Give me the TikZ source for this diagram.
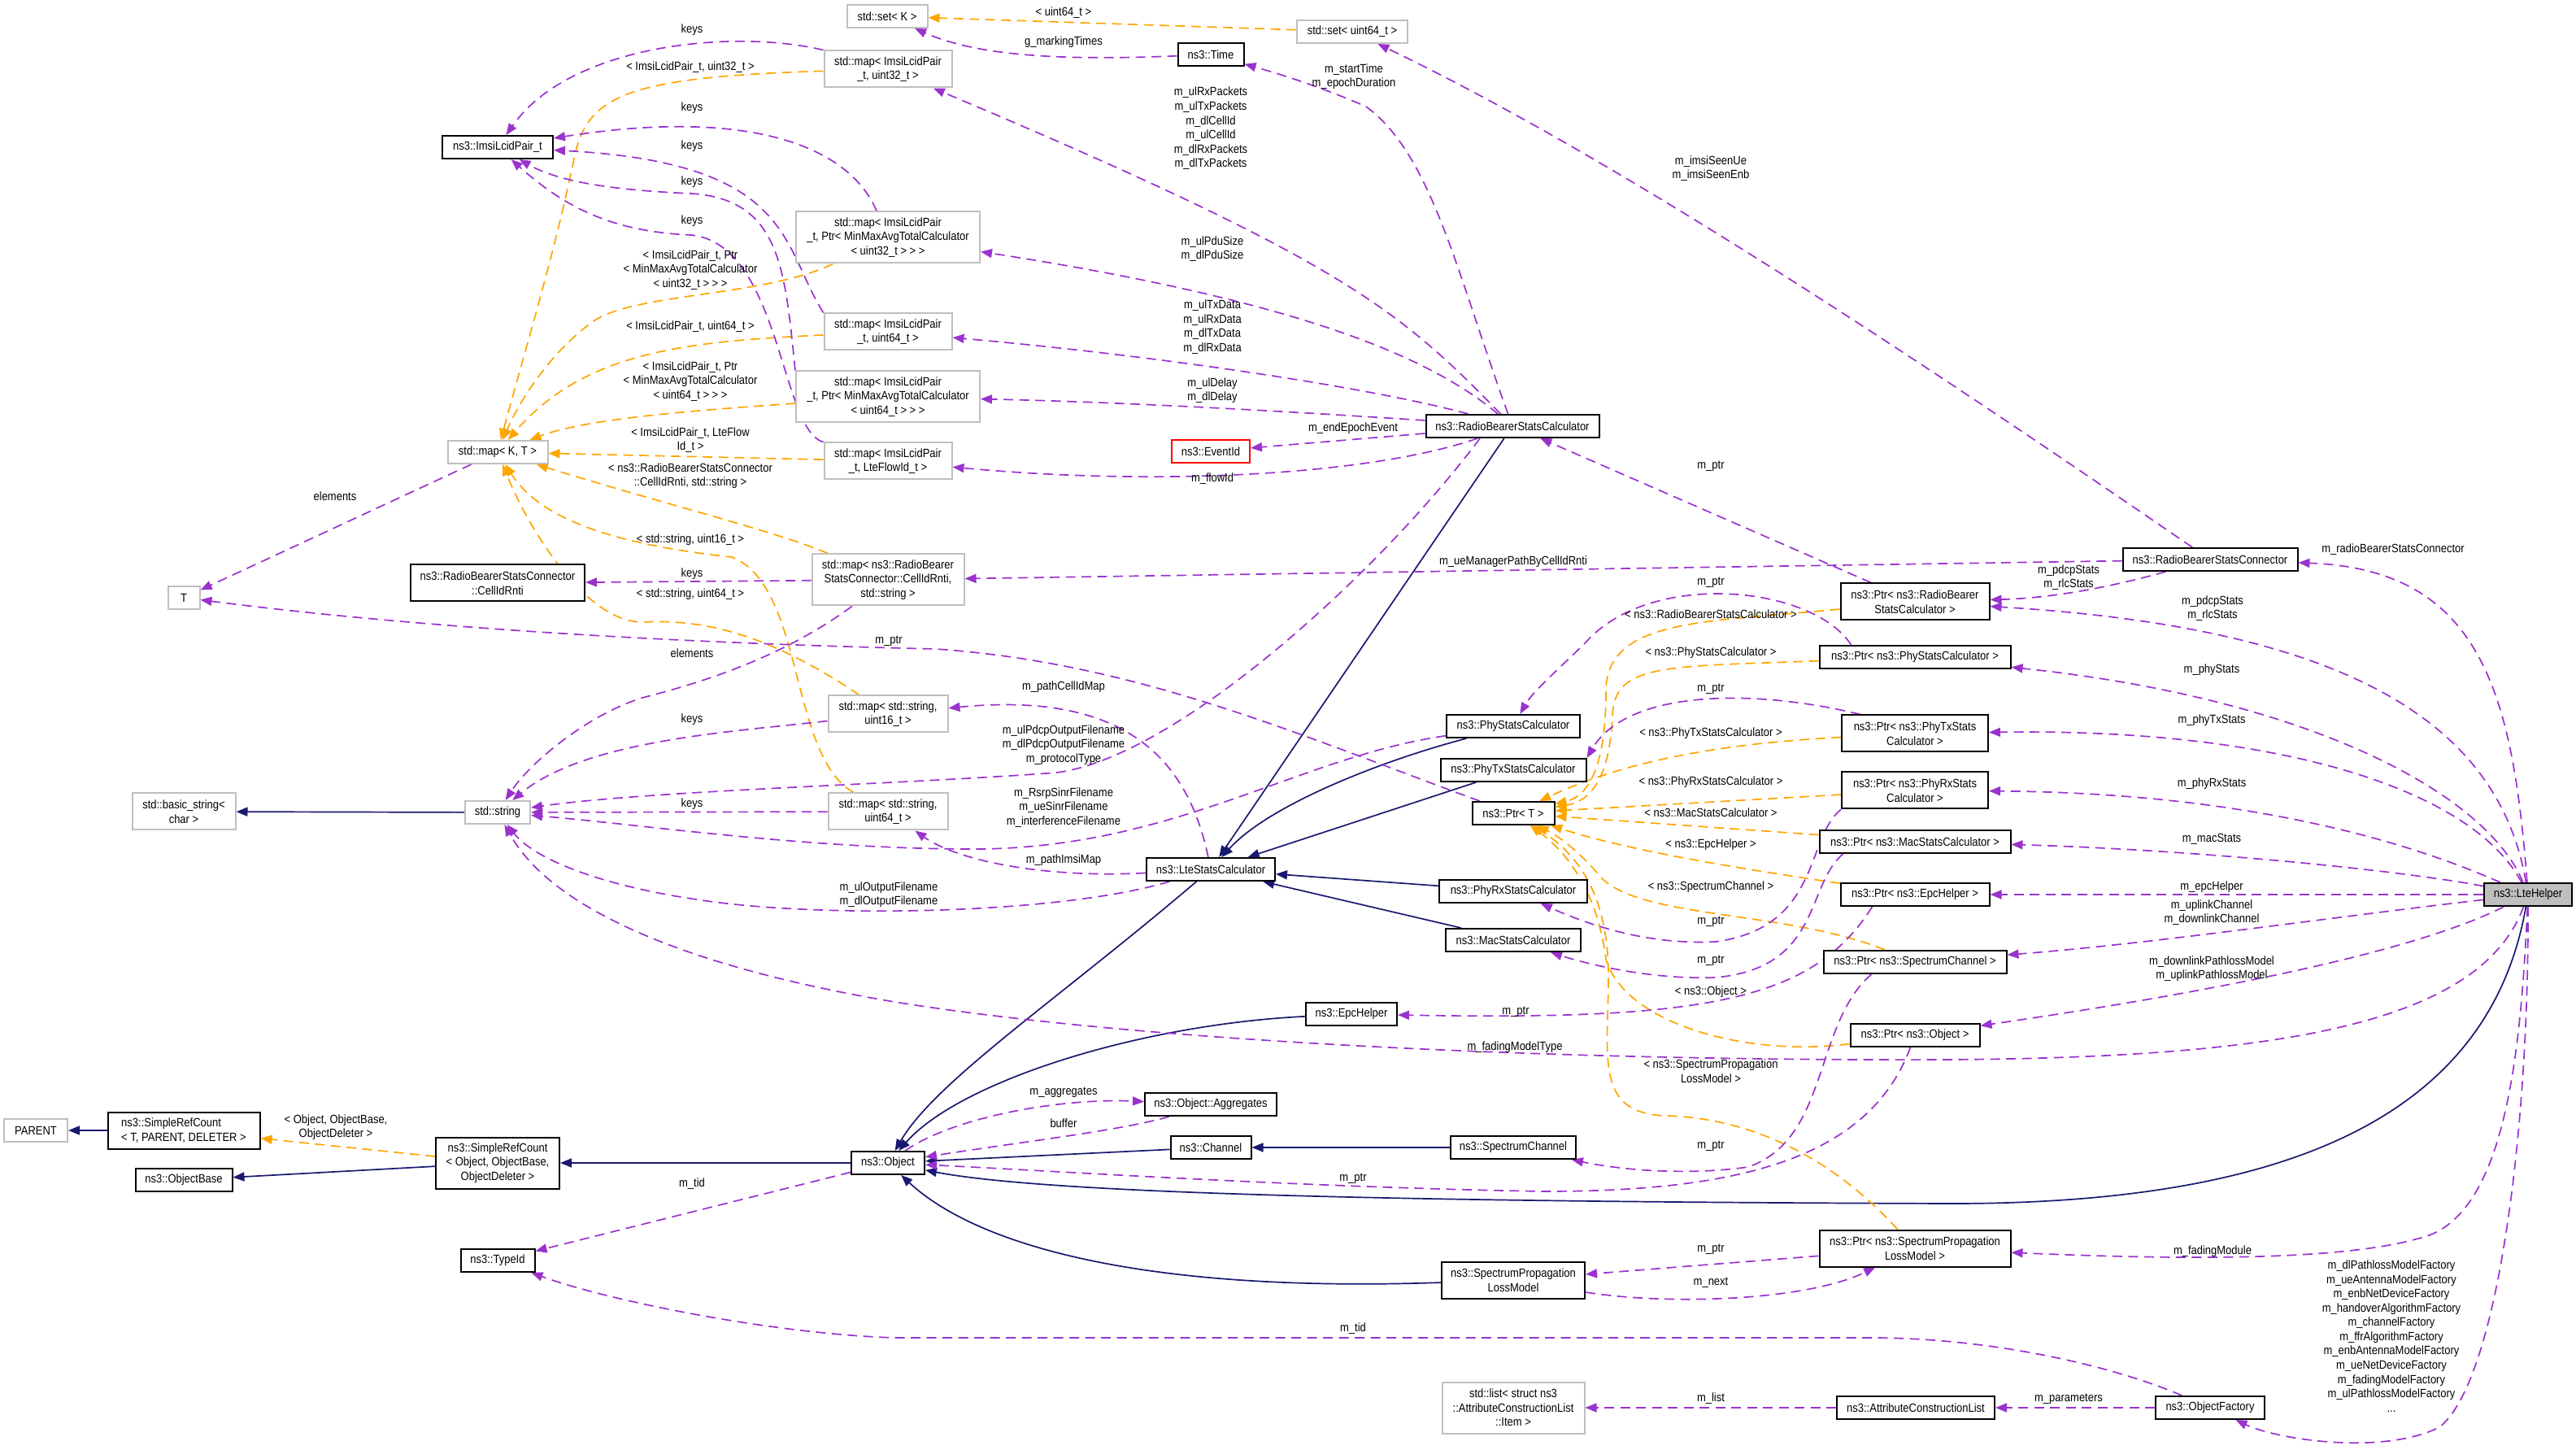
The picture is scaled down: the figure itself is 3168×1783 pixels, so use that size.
\documentclass[tikz,border=0pt]{standalone}
\usepackage{fontspec}
\setmainfont{Liberation Sans}[FakeStretch=0.88]
\usetikzlibrary{arrows.meta,backgrounds}
\definecolor{usecol}{HTML}{9A32CD}
\definecolor{tplcol}{HTML}{FFA500}
\definecolor{inhcol}{HTML}{191970}
\definecolor{extcol}{HTML}{BFBFBF}
\tikzset{
  clsbox/.style={draw=black,line width=.2mm,fill=white,align=center,
                 inner xsep=.4mm,inner ysep=.3mm,minimum height=2.8mm,
                 font=\fontsize{4.2}{5}\selectfont},
  extbox/.style={clsbox,draw=extcol},
  redbox/.style={clsbox,draw=red},
  hltbox/.style={clsbox,fill=extcol},
  h2/.style={minimum height=4.5mm},
  h3/.style={minimum height=6.3mm},
  lbl/.style={font=\fontsize{4.2}{5}\selectfont,align=center,inner sep=0pt},
  usg/.style={-{Triangle[length=1.4mm,width=1.1mm]},draw=usecol,
              line width=.17mm,dash pattern=on 1.2mm off .75mm},
  tpl/.style={usg,draw=tplcol},
  inh/.style={-{Triangle[length=1.4mm,width=1.1mm]},draw=inhcol,line width=.17mm},
}
\begin{document}
\begin{tikzpicture}[x=.1mm,y=-.1mm]
  \useasboundingbox (0,0) rectangle (3168,1783);
  % classes
  \node[clsbox,minimum width=13.6mm] (ilp) at (612,181) {ns3::ImsiLcidPair\_t};
  \node[extbox,minimum width=12.3mm] (mapKT) at (612,556) {std::map< K, T >};
  \node[extbox,minimum width=9.9mm] (setK) at (1091,20) {std::set< K >};
  \node[extbox,minimum width=13.6mm] (setU) at (1663,39) {std::set< uint64\_t >};
  \node[extbox,h2,minimum width=15.7mm] (m32) at (1092,85) {std::map< ImsiLcidPair\\\_t, uint32\_t >};
  \node[clsbox,minimum width=8.1mm] (time) at (1489,67) {ns3::Time};
  \node[extbox,h3,minimum width=22.6mm] (mp32) at (1092,292) {std::map< ImsiLcidPair\\\_t, Ptr< MinMaxAvgTotalCalculator\\< uint32\_t > > >};
  \node[extbox,h2,minimum width=15.7mm] (m64) at (1092,408) {std::map< ImsiLcidPair\\\_t, uint64\_t >};
  \node[extbox,h3,minimum width=22.6mm] (mp64) at (1092,488) {std::map< ImsiLcidPair\\\_t, Ptr< MinMaxAvgTotalCalculator\\< uint64\_t > > >};
  \node[redbox,minimum width=9.6mm] (evid) at (1489,555) {ns3::EventId};
  \node[extbox,h2,minimum width=15.7mm] (mflow) at (1092,567) {std::map< ImsiLcidPair\\\_t, LteFlowId\_t >};
  \node[clsbox,minimum width=21.3mm] (rbsc) at (1860,524) {ns3::RadioBearerStatsCalculator};
  \node[extbox,minimum width=3.9mm] (tT) at (226,735) {T};
  \node[clsbox,h2,minimum width=21.4mm] (cir) at (612,717) {ns3::RadioBearerStatsConnector\\::CellIdRnti};
  \node[extbox,h2,minimum width=12.7mm] (bstr) at (226,998) {std::basic\_string<\\char >};
  \node[extbox,minimum width=8mm] (str) at (612,999) {std::string};
  \node[extbox,h3,minimum width=18.7mm] (mcir) at (1092,713) {std::map< ns3::RadioBearer\\StatsConnector::CellIdRnti,\\std::string >};
  \node[extbox,h2,minimum width=14.7mm] (ms16) at (1092,878) {std::map< std::string,\\uint16\_t >};
  \node[extbox,h2,minimum width=14.7mm] (ms64) at (1092,998) {std::map< std::string,\\uint64\_t >};
  \node[clsbox,minimum width=15.8mm] (lsc) at (1489,1069) {ns3::LteStatsCalculator};
  \node[clsbox,minimum width=16.4mm] (phy) at (1861,893) {ns3::PhyStatsCalculator};
  \node[clsbox,minimum width=17.9mm] (phytx) at (1861,947) {ns3::PhyTxStatsCalculator};
  \node[clsbox,minimum width=10.1mm] (ptrT) at (1861,1000) {ns3::Ptr< T >};
  \node[clsbox,minimum width=18.2mm] (phyrx) at (1861,1096) {ns3::PhyRxStatsCalculator};
  \node[clsbox,minimum width=16.6mm] (mac) at (1861,1156) {ns3::MacStatsCalculator};
  \node[clsbox,h2,minimum width=18.3mm] (prbsc) at (2355,740) {ns3::Ptr< ns3::RadioBearer\\StatsCalculator >};
  \node[clsbox,minimum width=23.5mm] (pphy) at (2355,808) {ns3::Ptr< ns3::PhyStatsCalculator >};
  \node[clsbox,h2,minimum width=18mm] (pphytx) at (2355,902) {ns3::Ptr< ns3::PhyTxStats\\Calculator >};
  \node[clsbox,h2,minimum width=18mm] (pphyrx) at (2355,972) {ns3::Ptr< ns3::PhyRxStats\\Calculator >};
  \node[clsbox,minimum width=23.5mm] (pmac) at (2355,1035) {ns3::Ptr< ns3::MacStatsCalculator >};
  \node[clsbox,minimum width=18.3mm] (pepc) at (2355,1100) {ns3::Ptr< ns3::EpcHelper >};
  \node[clsbox,minimum width=22.5mm] (pchan) at (2355,1183) {ns3::Ptr< ns3::SpectrumChannel >};
  \node[clsbox,minimum width=21.5mm] (conn) at (2718,688) {ns3::RadioBearerStatsConnector};
  \node[hltbox,minimum width=10.8mm] (lte) at (3109,1100) {ns3::LteHelper};
  \node[extbox,minimum width=7.8mm] (parent) at (44,1390) {PARENT};
  \node[clsbox,h2,minimum width=18.7mm,align=left] (src) at (226,1390) {ns3::SimpleRefCount\\< T, PARENT, DELETER >};
  \node[clsbox,minimum width=11.9mm] (objbase) at (226,1451) {ns3::ObjectBase};
  \node[clsbox,h3,minimum width=15.2mm] (srco) at (612,1430) {ns3::SimpleRefCount\\< Object, ObjectBase,\\ObjectDeleter >};
  \node[clsbox,minimum width=9.1mm] (tid) at (612,1550) {ns3::TypeId};
  \node[clsbox,minimum width=9mm] (obj) at (1092,1430) {ns3::Object};
  \node[clsbox,minimum width=16.2mm] (aggr) at (1489,1358) {ns3::Object::Aggregates};
  \node[clsbox,minimum width=9.9mm] (chan) at (1489,1411) {ns3::Channel};
  \node[clsbox,minimum width=11.2mm] (epc) at (1662,1247) {ns3::EpcHelper};
  \node[clsbox,minimum width=15.9mm] (pobj) at (2355,1273) {ns3::Ptr< ns3::Object >};
  \node[clsbox,minimum width=15.4mm] (schan) at (1861,1411) {ns3::SpectrumChannel};
  \node[clsbox,h2,minimum width=17.6mm] (splm) at (1861,1574) {ns3::SpectrumPropagation\\LossModel};
  \node[clsbox,h2,minimum width=23.5mm] (psplm) at (2355,1535) {ns3::Ptr< ns3::SpectrumPropagation\\LossModel >};
  \node[extbox,h3,minimum width=17.5mm] (slist) at (1861,1731) {std::list< struct ns3\\::AttributeConstructionList\\::Item >};
  \node[clsbox,minimum width=19.4mm] (acl) at (2356,1731) {ns3::AttributeConstructionList};
  \node[clsbox,minimum width=13.4mm] (ofac) at (2718,1731) {ns3::ObjectFactory};

  % edge labels
  \node[lbl] (lk1) at (851,37) {keys};
  \node[lbl] (lk2) at (851,133) {keys};
  \node[lbl] (lk3) at (851,180) {keys};
  \node[lbl] (lk4) at (851,224) {keys};
  \node[lbl] (lk5) at (851,272) {keys};
  \node[lbl] (lt1) at (849,83) {< ImsiLcidPair\_t, uint32\_t >};
  \node[lbl] (lt2) at (849,332) {< ImsiLcidPair\_t, Ptr\\< MinMaxAvgTotalCalculator\\< uint32\_t > > >};
  \node[lbl] (lt3) at (849,402) {< ImsiLcidPair\_t, uint64\_t >};
  \node[lbl] (lt4) at (849,469) {< ImsiLcidPair\_t, Ptr\\< MinMaxAvgTotalCalculator\\< uint64\_t > > >};
  \node[lbl] (lt5) at (849,541) {< ImsiLcidPair\_t, LteFlow\\Id\_t >};
  \node[lbl] (lt6) at (849,585) {< ns3::RadioBearerStatsConnector\\::CellIdRnti, std::string >};
  \node[lbl] (lel1) at (412,610) {elements};
  \node[lbl] (lt7) at (849,664) {< std::string, uint16\_t >};
  \node[lbl] (lk6) at (851,706) {keys};
  \node[lbl] (lt8) at (849,731) {< std::string, uint64\_t >};
  \node[lbl] (lp1) at (1093,788) {m\_ptr};
  \node[lbl] (lel2) at (851,803) {elements};
  \node[lbl] (lk7) at (851,885) {keys};
  \node[lbl] (lk8) at (851,989) {keys};
  \node[lbl] (lt9) at (1308,16) {< uint64\_t >};
  \node[lbl] (lmark) at (1308,52) {g\_markingTimes};
  \node[lbl] (lpkt) at (1489,158) {m\_ulRxPackets\\m\_ulTxPackets\\m\_dlCellId\\m\_ulCellId\\m\_dlRxPackets\\m\_dlTxPackets};
  \node[lbl] (lstart) at (1665,94) {m\_startTime\\m\_epochDuration};
  \node[lbl] (lpdu) at (1491,306) {m\_ulPduSize\\m\_dlPduSize};
  \node[lbl] (ldata) at (1491,402) {m\_ulTxData\\m\_ulRxData\\m\_dlTxData\\m\_dlRxData};
  \node[lbl] (ldelay) at (1491,480) {m\_ulDelay\\m\_dlDelay};
  \node[lbl] (lepoch) at (1664,527) {m\_endEpochEvent};
  \node[lbl] (lflow) at (1491,589) {m\_flowId};
  \node[lbl] (lseen) at (2104,207) {m\_imsiSeenUe\\m\_imsiSeenEnb};
  \node[lbl] (lp2) at (2104,573) {m\_ptr};
  \node[lbl] (lue) at (1861,691) {m\_ueManagerPathByCellIdRnti};
  \node[lbl] (lp3) at (2104,716) {m\_ptr};
  \node[lbl] (lt10) at (2104,755) {< ns3::RadioBearerStatsCalculator >};
  \node[lbl] (lt11) at (2104,803) {< ns3::PhyStatsCalculator >};
  \node[lbl] (lp4) at (2104,847) {m\_ptr};
  \node[lbl] (lt12) at (2104,902) {< ns3::PhyTxStatsCalculator >};
  \node[lbl] (lt13) at (2104,962) {< ns3::PhyRxStatsCalculator >};
  \node[lbl] (lt14) at (2104,999) {< ns3::MacStatsCalculator >};
  \node[lbl] (lt15) at (2104,1039) {< ns3::EpcHelper >};
  \node[lbl] (lt16) at (2104,1091) {< ns3::SpectrumChannel >};
  \node[lbl] (lp5) at (2104,1133) {m\_ptr};
  \node[lbl] (lp6) at (2104,1181) {m\_ptr};
  \node[lbl] (lt17) at (2104,1220) {< ns3::Object >};
  \node[lbl] (lp7) at (1864,1244) {m\_ptr};
  \node[lbl] (lfmt) at (1863,1288) {m\_fadingModelType};
  \node[lbl] (lt18) at (2104,1317) {< ns3::SpectrumPropagation\\LossModel >};
  \node[lbl] (lp8) at (2104,1409) {m\_ptr};
  \node[lbl] (lp9) at (1664,1449) {m\_ptr};
  \node[lbl] (laggr) at (1308,1343) {m\_aggregates};
  \node[lbl] (lbuf) at (1308,1381) {buffer};
  \node[lbl] (ltid1) at (851,1456) {m\_tid};
  \node[lbl] (lp10) at (2104,1536) {m\_ptr};
  \node[lbl] (lnext) at (2104,1577) {m\_next};
  \node[lbl] (ltid2) at (1664,1634) {m\_tid};
  \node[lbl] (llist) at (2104,1720) {m\_list};
  \node[lbl] (lparam) at (2544,1720) {m\_parameters};
  \node[lbl] (lcell) at (1308,845) {m\_pathCellIdMap};
  \node[lbl] (lpdcp) at (1308,916) {m\_ulPdcpOutputFilename\\m\_dlPdcpOutputFilename\\m\_protocolType};
  \node[lbl] (lrsrp) at (1308,993) {m\_RsrpSinrFilename\\m\_ueSinrFilename\\m\_interferenceFilename};
  \node[lbl] (limsi) at (1308,1058) {m\_pathImsiMap};
  \node[lbl] (lout) at (1093,1100) {m\_ulOutputFilename\\m\_dlOutputFilename};
  \node[lbl] (lt19) at (413,1386) {< Object, ObjectBase,\\ObjectDeleter >};
  \node[lbl] (lconn) at (2943,676) {m\_radioBearerStatsConnector};
  \node[lbl] (lpdcp1) at (2544,710) {m\_pdcpStats\\m\_rlcStats};
  \node[lbl] (lpdcp2) at (2721,748) {m\_pdcpStats\\m\_rlcStats};
  \node[lbl] (lphy) at (2720,824) {m\_phyStats};
  \node[lbl] (lphytx) at (2720,886) {m\_phyTxStats};
  \node[lbl] (lphyrx) at (2720,964) {m\_phyRxStats};
  \node[lbl] (lmac) at (2720,1032) {m\_macStats};
  \node[lbl] (lepc) at (2720,1091) {m\_epcHelper};
  \node[lbl] (lchan) at (2720,1122) {m\_uplinkChannel\\m\_downlinkChannel};
  \node[lbl] (lpath) at (2720,1191) {m\_downlinkPathlossModel\\m\_uplinkPathlossModel};
  \node[lbl] (lfad) at (2721,1539) {m\_fadingModule};
  \node[lbl] (lfac) at (2941,1643) {m\_dlPathlossModelFactory\\m\_ueAntennaModelFactory\\m\_enbNetDeviceFactory\\m\_handoverAlgorithmFactory\\m\_channelFactory\\m\_ffrAlgorithmFactory\\m\_enbAntennaModelFactory\\m\_ueNetDeviceFactory\\m\_fadingModelFactory\\m\_ulPathlossModelFactory\\...};

  \begin{scope}[on background layer]
    % inheritance
    \draw[inh] (str) -- (bstr);
    \draw[inh] (src) -- (parent);
    \draw[inh] (srco) -- (objbase);
    \draw[inh] (obj) -- (srco);
    \draw[inh] (lsc) .. controls (1300,1230) and (1150,1330) .. (obj);
    \draw[inh] (epc) .. controls (1400,1260) and (1180,1330) .. (obj);
    \draw[inh] (chan) -- (obj);
    \draw[inh] (schan) -- (chan);
    \draw[inh] (splm) .. controls (1400,1590) and (1200,1530) .. (obj);
    \draw[inh] (lte) .. controls (3060,1380) and (2800,1480) .. (2400,1480)
                     .. controls (1800,1478) and (1300,1470) .. (obj);
    \draw[inh] (rbsc) -- (lsc);
    \draw[inh] (phy) .. controls (1700,935) and (1560,990) .. (lsc);
    \draw[inh] (phytx) -- (lsc);
    \draw[inh] (phyrx) -- (lsc);
    \draw[inh] (mac) -- (lsc);

    % template instances
    \draw[tpl] (setU) -- (setK);
    \draw[tpl] (m32) .. controls (760,95) and (720,120) .. (705,200)
                     .. controls (680,320) and (640,450) .. (mapKT);
    \draw[tpl] (mp32) .. controls (940,365) and (780,360) .. (730,395)
                      .. controls (680,430) and (640,490) .. (mapKT);
    \draw[tpl] (m64) .. controls (850,420) and (720,430) .. (mapKT);
    \draw[tpl] (mp64) .. controls (850,505) and (720,515) .. (mapKT);
    \draw[tpl] (mflow) -- (mapKT);
    \draw[tpl] (mcir) .. controls (960,655) and (800,615) .. (mapKT);
    \draw[tpl] (ms16) .. controls (960,790) and (880,760) .. (790,765)
                      .. controls (720,765) and (650,650) .. (mapKT);
    \draw[tpl] (ms64) .. controls (970,930) and (990,720) .. (900,685)
                      .. controls (760,670) and (665,640) .. (mapKT);
    \draw[tpl] (prbsc) .. controls (2100,765) and (1975,760) .. (1975,850)
                       .. controls (1975,950) and (1950,980) .. (ptrT);
    \draw[tpl] (pphy) .. controls (2050,820) and (1985,815) .. (1983,880)
                      .. controls (1980,950) and (1960,985) .. (ptrT);
    \draw[tpl] (pphytx) .. controls (2100,915) and (1990,940) .. (ptrT);
    \draw[tpl] (pphyrx) -- (ptrT);
    \draw[tpl] (pmac) -- (ptrT);
    \draw[tpl] (pepc) .. controls (2120,1065) and (2000,1045) .. (ptrT);
    \draw[tpl] (pchan) .. controls (2200,1120) and (2020,1130) .. (1970,1080)
                       .. controls (1945,1050) and (1920,1030) .. (ptrT);
    \draw[tpl] (pobj) .. controls (2150,1300) and (2000,1260) .. (1975,1180)
                      .. controls (1965,1100) and (1930,1050) .. (ptrT);
    \draw[tpl] (psplm) .. controls (2250,1420) and (2150,1375) .. (2050,1372)
                       .. controls (1960,1370) and (1978,1300) .. (1978,1200)
                       .. controls (1978,1100) and (1940,1050) .. (ptrT);
    \draw[tpl] (srco) -- (src);

    % usage
    \draw[usg] (m32.north west) .. controls (900,35) and (700,55) .. (ilp);
    \draw[usg] (mp32) .. controls (1040,170) and (900,135) .. (ilp);
    \draw[usg] (m64.north west) .. controls (960,300) and (975,200) .. (ilp);
    \draw[usg] (mp64.north west) .. controls (965,330) and (960,245) .. (850,238)
                                 .. controls (760,234) and (690,225) .. (ilp);
    \draw[usg] (mflow.north west) .. controls (960,530) and (960,300) .. (850,289)
                                  .. controls (760,285) and (700,260) .. (ilp);
    \draw[usg] (time) .. controls (1300,75) and (1200,68) .. (setK);
    \draw[usg] (rbsc) .. controls (1790,330) and (1760,190) .. (1680,131)
                      .. controls (1620,105) and (1570,90) .. (time);
    \draw[usg] (rbsc) .. controls (1720,380) and (1650,320) .. (m32);
    \draw[usg] (rbsc) .. controls (1760,440) and (1600,370) .. (mp32);
    \draw[usg] (rbsc) .. controls (1700,480) and (1450,440) .. (m64);
    \draw[usg] (rbsc) .. controls (1600,507) and (1400,495) .. (mp64);
    \draw[usg] (rbsc) -- (evid);
    \draw[usg] (rbsc) .. controls (1700,580) and (1450,600) .. (mflow);
    \draw[usg] ([xshift=-4mm]rbsc.south) .. controls (1700,700) and (1450,930) .. (1300,950)
                                         .. controls (1100,965) and (800,972) .. (str);
    \draw[usg] (phy) .. controls (1600,930) and (1450,1040) .. (1208,1044)
                     .. controls (1000,1045) and (800,1015) .. (str);
    \draw[usg] (lsc) .. controls (1460,930) and (1380,850) .. (ms16);
    \draw[usg] (lsc) .. controls (1290,1080) and (1180,1060) .. (ms64);
    \draw[usg] (lsc) .. controls (1300,1125) and (1000,1130) .. (850,1105)
                     .. controls (750,1090) and (660,1060) .. (str);
    \draw[usg] (lte) .. controls (3050,1260) and (2800,1300) .. (2400,1303)
                     .. controls (1900,1305) and (1400,1280) .. (1100,1232)
                     .. controls (850,1190) and (680,1120) .. (str);
    \draw[usg] (conn) -- (mcir);
    \draw[usg] (conn) .. controls (2400,470) and (2000,200) .. (setU);
    \draw[usg] (prbsc) -- (rbsc);
    \draw[usg] (conn) .. controls (2620,715) and (2540,735) .. (prbsc);
    \draw[usg] (lte) .. controls (3070,870) and (2850,770) .. (prbsc);
    \draw[usg] (lte) .. controls (3090,850) and (3050,700) .. (conn);
    \draw[usg] (lte) .. controls (3060,980) and (2850,860) .. (pphy);
    \draw[usg] (lte) .. controls (3040,970) and (2800,895) .. (pphytx);
    \draw[usg] (lte) .. controls (2950,1030) and (2750,975) .. (pphyrx);
    \draw[usg] (lte) .. controls (2950,1070) and (2700,1045) .. (pmac);
    \draw[usg] (lte) -- (pepc);
    \draw[usg] (lte) .. controls (2850,1130) and (2650,1160) .. (pchan);
    \draw[usg] (lte) .. controls (2950,1180) and (2650,1230) .. (pobj);
    \draw[usg] (lte) .. controls (3100,1300) and (3080,1480) .. (2990,1518)
                     .. controls (2900,1550) and (2700,1550) .. (psplm);
    \draw[usg] (lte) .. controls (3110,1400) and (3070,1700) .. (3000,1755)
                     .. controls (2930,1790) and (2800,1770) .. (ofac);
    \draw[usg] (ofac) -- (acl);
    \draw[usg] (acl) -- (slist);
    \draw[usg] (ofac) .. controls (2600,1680) and (2450,1645) .. (2300,1645) -- (1100,1645)
                      .. controls (950,1640) and (750,1600) .. (tid);
    \draw[usg] (obj) -- (tid);
    \draw[usg] (obj) .. controls (1170,1375) and (1300,1350) .. (aggr);
    \draw[usg] (aggr) .. controls (1380,1390) and (1250,1405) .. (obj);
    \draw[usg] (pobj) .. controls (2300,1420) and (2150,1465) .. (1900,1465)
                      .. controls (1600,1460) and (1300,1440) .. (obj);
    \draw[usg] ([xshift=6mm]pchan.south west) .. controls (2230,1260) and (2250,1400) .. (2150,1435)
                                              .. controls (2080,1445) and (2000,1440) .. (schan);
    \draw[usg] ([xshift=4mm]pepc.south west) .. controls (2230,1230) and (2100,1255) .. (epc);
    \draw[usg] ([xshift=3mm]pmac.south west) .. controls (2220,1090) and (2240,1190) .. (2110,1202)
                                             .. controls (2030,1205) and (1950,1185) .. (mac);
    \draw[usg] (pphyrx.south west) .. controls (2220,1030) and (2240,1140) .. (2110,1158)
                                   .. controls (2030,1162) and (1960,1140) .. (phyrx);
    \draw[usg] ([xshift=2.4mm]pphytx.north west) .. controls (2150,845) and (2000,850) .. (phytx.north east);
    \draw[usg] ([xshift=4mm]pphy.north west) .. controls (2230,720) and (2030,700) .. (1950,790)
                                             .. controls (1920,820) and (1885,850) .. (phy);
    \draw[usg] (ptrT) .. controls (1600,905) and (1400,815) .. (1150,798)
                      .. controls (800,790) and (500,770) .. (tT);
    \draw[usg] (mapKT) -- (tT);
    \draw[usg] (mcir) -- (cir);
    \draw[usg] (mcir) .. controls (960,810) and (860,840) .. (790,858)
                      .. controls (720,880) and (650,940) .. (str);
    \draw[usg] (ms16) .. controls (900,900) and (720,910) .. (str);
    \draw[usg] (ms64) -- (str);
    \draw[usg] (psplm) -- (splm);
    \draw[usg] ([yshift=-1.5mm]splm.east) .. controls (2050,1605) and (2220,1600) .. (psplm);
  \end{scope}
\end{tikzpicture}
\end{document}
